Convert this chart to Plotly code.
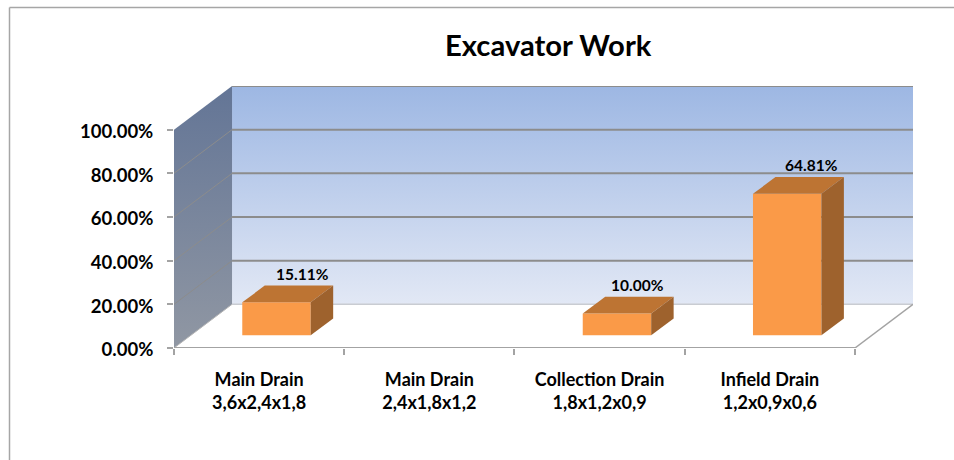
import plotly.graph_objects as go

title = "Excavator Work"
categories = ["Main Drain<br>3,6x2,4x1,8", "Main Drain<br>2,4x1,8x1,2",
              "Collection Drain<br>1,8x1,2x0,9", "Infield Drain<br>1,2x0,9x0,6"]
values = [15.11, None, 10.00, 64.81]
labels = ["15.11%", "", "10.00%", "64.81%"]
label_shift = [26, 0, 21, 24]
y_ticks = [0, 20, 40, 60, 80, 100]
y_ticktext = ["0.00%", "20.00%", "40.00%", "60.00%", "80.00%", "100.00%"]

# 3D-look projection, in axis units
DX, DY = 0.341, 20
BAR_X, BAR_BASE, BAR_W = 0.102, 5.8, 0.402
BAR_DX, BAR_DY = 0.132, 7.66
FONT = "Lato"
GRID = "#8c8c8c"
EDGE = "#a3a3a3"

n = len(categories)
fig = go.Figure()


def poly(xs, ys, color=None, grad=None, ax="x", ay="y"):
    kw = dict(x=xs + xs[:1], y=ys + ys[:1], mode="lines", line=dict(width=0), fill="toself",
              hoverinfo="skip", showlegend=False, xaxis=ax, yaxis=ay)
    if grad:
        kw["fillgradient"] = dict(type="vertical", colorscale=grad)
        kw["fillcolor"] = "rgba(0,0,0,0)"
    else:
        kw["fillcolor"] = color
    fig.add_trace(go.Scatter(**kw))


def seg(xs, ys, color, width):
    fig.add_trace(go.Scatter(x=xs, y=ys, mode="lines", line=dict(color=color, width=width),
                             hoverinfo="skip", showlegend=False, cliponaxis=False))


# walls
poly([DX, n + DX, n + DX, DX], [DY, DY, 100 + DY, 100 + DY],
     grad=[[0, "#e2e8f5"], [1, "#9db7e3"]])
poly([0, DX, DX, 0], [0, DY, 100 + DY, 100],
     grad=[[0, "#9097a3"], [1, "#637596"]])

# gridlines
for t in y_ticks[1:]:
    seg([DX, n + DX], [t + DY, t + DY], GRID, 2)
    if t < y_ticks[-1]:
        seg([0, DX], [t, t + DY], GRID, 1)
seg([DX, n + DX], [DY, DY], "#c9ccd2", 1.5)
seg([0, DX], [0, DY], "#b5b5b5", 1)
seg([n, n + DX], [0, DY], EDGE, 1.5)
seg([0, n], [0, 0], EDGE, 2)

# bars: front face
cx = [i + 0.5 + BAR_X for i in range(n)]
fig.add_trace(go.Bar(x=cx, y=values, base=BAR_BASE, width=BAR_W, marker=dict(color="#fa9a48", line=dict(width=0)),
                     xaxis="x2", yaxis="y2", showlegend=False, hoverinfo="skip"))
# bars: top and side faces
for c, v in zip(cx, values):
    if v is None:
        continue
    l, r, b, t = c - BAR_W / 2, c + BAR_W / 2, BAR_BASE, BAR_BASE + v
    poly([l, r, r + BAR_DX, l + BAR_DX], [t, t, t + BAR_DY, t + BAR_DY], "#bd7433", ax="x2", ay="y2")
    poly([r, r + BAR_DX, r + BAR_DX, r], [b, b + BAR_DY, t + BAR_DY, t], "#9e622d", ax="x2", ay="y2")

annotations = []
for c, v, lab, s in zip(cx, values, labels, label_shift):
    if v is None:
        continue
    annotations.append(dict(x=c, y=BAR_BASE + v + BAR_DY, xref="x2", yref="y2", text=f"<b>{lab}</b>", showarrow=False,
                            xshift=s, yshift=12, font=dict(family=FONT, size=15.5, color="#000000")))
annotations.append(dict(x=548 / 954, y=1 - 44 / 460, xref="paper", yref="paper", text=f"<b>{title}</b>",
                        xanchor="center", yanchor="middle",
                        showarrow=False, font=dict(family=FONT, size=29.2, color="#000000")))

x_range = [0, n + DX]
y_range = [0, 100 + DY]
x_dom = [174 / 954, 913 / 954]
y_dom = [(460 - 348) / 460, (460 - 86) / 460]
fig.update_layout(
    width=954, height=460, autosize=False, margin=dict(l=0, r=0, t=0, b=0),
    paper_bgcolor="white", plot_bgcolor="rgba(0,0,0,0)", showlegend=False,
    annotations=annotations,
    xaxis=dict(domain=x_dom, range=x_range, tickmode="array", tickvals=[i + 0.5 for i in range(n)],
               ticktext=[f"<b>{c}</b>" for c in categories], ticks="", ticklabelstandoff=19,
               showgrid=False, zeroline=False, showline=False, automargin=False,
               tickfont=dict(family=FONT, size=18, color="#000000"),
               minor=dict(tickmode="array", tickvals=list(range(n + 1)), ticks="outside", ticklen=6,
                          tickcolor=EDGE, tickwidth=1.5, showgrid=False)),
    yaxis=dict(domain=y_dom, range=y_range, tickmode="array", tickvals=y_ticks,
               ticktext=[f"<b>{t}</b>" for t in y_ticktext], ticks="outside", ticklen=6,
               tickcolor=EDGE, tickwidth=1.5, showgrid=False, zeroline=False, showline=False, automargin=False,
               ticklabelstandoff=10, ticklabelshift=2,
               tickfont=dict(family=FONT, size=18.5, color="#000000")),
    xaxis2=dict(domain=x_dom, range=x_range, overlaying="x", visible=False, anchor="y2"),
    yaxis2=dict(domain=y_dom, range=y_range, overlaying="y", visible=False, anchor="x2"),
    shapes=[
        dict(type="line", xref="paper", yref="paper", x0=9.5 / 954, x1=1, y0=1 - 7.5 / 460, y1=1 - 7.5 / 460,
             line=dict(color="#a6a6a6", width=1.5)),
        dict(type="line", xref="paper", yref="paper", x0=9.5 / 954, x1=9.5 / 954, y0=0, y1=1 - 7.5 / 460,
             line=dict(color="#a6a6a6", width=1.5)),
    ],
)
fig.write_html("out.html", config=dict(displayModeBar=False),
               post_script="document.body.style.margin='0';document.documentElement.style.overflow='hidden';")
